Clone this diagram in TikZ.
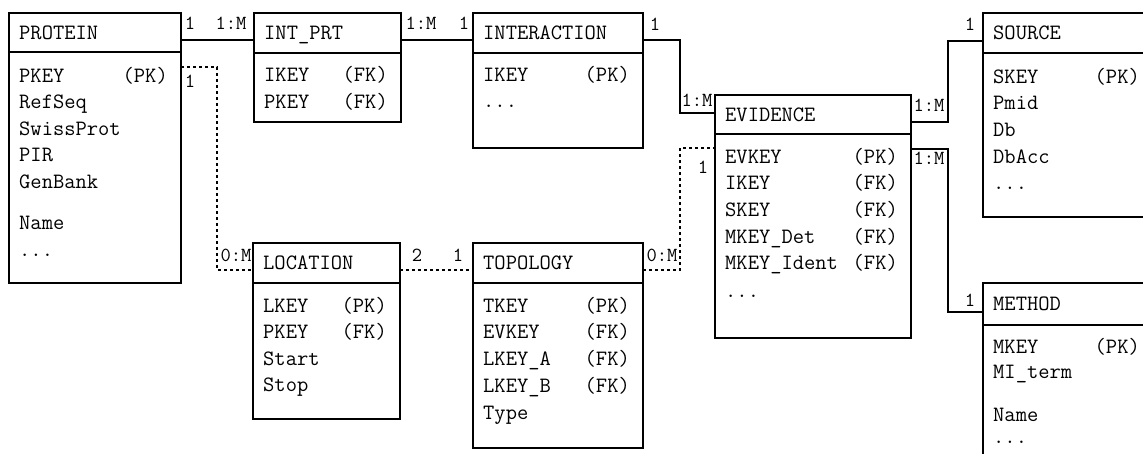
\documentclass[tikz,border=0pt]{standalone}
\usepackage{fontspec}
\usetikzlibrary{fit}

\tikzset{
  tbl/.style={draw, line width=2.5pt, inner sep=0pt, outer sep=0pt},
  hdr/.style={line width=2.2pt},
  ttl/.style={font=\fontsize{21.9}{24}\selectfont\ttfamily, inner sep=0pt, anchor=base west},
  fld/.style={font=\fontsize{21.9}{24}\selectfont\ttfamily, inner sep=0pt, anchor=base west},
  fkey/.style={font=\fontsize{21.9}{24}\selectfont\ttfamily, inner sep=0pt, anchor=base east},
  card/.style={font=\fontsize{20}{22}\selectfont\ttfamily, inner sep=0pt},
  rel/.style={line width=2pt},
  dotrel/.style={line width=2.6pt, dash pattern=on 3pt off 3pt},
}

% "more fields" marker
\newcommand\moref{...}

% table box: name, left, top, right, header line, bottom, title
\newcommand\ertable[7]{%
  \node[tbl, fit={(#2,#3) (#4,#6)}] (#1) {};
  \draw[hdr] (#1.west |- 0,#5) -- (#1.east |- 0,#5);
  \node[ttl] (#1-title) at (#2+10, {(#3+#5)/2+6.7}) {#7};
}
% field names: name, left, list of y/text
\newcommand\erfields[3]{%
  \foreach \fy/\ftxt [count=\fidx] in {#3}{
    \node[fld] (#1-f\fidx) at (#2+10, \fy+6.7) {\ftxt};
  }%
}
% key markers: name, right, list of y/text
\newcommand\erkeys[3]{%
  \foreach \fy/\ftxt [count=\fidx] in {#3}{
    \node[fkey] (#1-k\fidx) at (#2-13, \fy+6.7) {\ftxt};
  }%
}

\begin{document}
\begin{tikzpicture}[x=1pt, y=-1pt]
\useasboundingbox (0,0) rectangle (1143,454);
\clip (0,0) rectangle (1143,454);

% ---- tables ----
\ertable{protein}{9}{13}{181}{52}{283}{PROTEIN}
\erfields{protein}{9}{76/PKEY, 102/RefSeq, 129/SwissProt, 155/PIR, 182/GenBank, 223/Name, 250/\moref}
\erkeys{protein}{181}{76/(PK)}

\ertable{intprt}{254}{13}{401}{53}{122}{INT\_PRT}
\erfields{intprt}{254}{75/IKEY, 102/PKEY}
\erkeys{intprt}{401}{75/(FK), 102/(FK)}

\ertable{interaction}{473}{13}{643}{53}{148}{INTERACTION}
\erfields{interaction}{473}{75/IKEY, 101/\moref}
\erkeys{interaction}{643}{75/(PK)}

\ertable{evidence}{715}{95}{911}{134}{338}{EVIDENCE}
\erfields{evidence}{715}{157/EVKEY, 183/IKEY, 210/SKEY, 237/MKEY\_Det, 263/MKEY\_Ident, 291/\moref}
\erkeys{evidence}{911}{157/(PK), 183/(FK), 210/(FK), 237/(FK), 263/(FK)}

\ertable{source}{983}{13}{1153}{53}{217}{SOURCE}
\erfields{source}{983}{77/SKEY, 103/Pmid, 130/Db, 157/DbAcc, 183/\moref}
\erkeys{source}{1153}{77/(PK)}

\ertable{method}{983}{283}{1153}{325}{490}{METHOD}
\erfields{method}{983}{347/MKEY, 372/MI\_term, 415/Name, 437/\moref}
\erkeys{method}{1153}{347/(PK)}

\ertable{location}{253}{243}{400}{283}{419}{LOCATION}
\erfields{location}{253}{306/LKEY, 332/PKEY, 359/Start, 385/Stop}
\erkeys{location}{400}{306/(PK), 332/(FK)}

\ertable{topology}{473}{243}{643}{283}{448}{TOPOLOGY}
\erfields{topology}{473}{306/TKEY, 332/EVKEY, 359/LKEY\_A, 386/LKEY\_B, 413/Type}
\erkeys{topology}{643}{306/(PK), 332/(FK), 359/(FK), 386/(FK)}

% ---- relationships ----
\draw[rel] (protein.east |- 0,40) -- (intprt.west |- 0,40);
\node[card] (c-p1) at (190,23) {1};
\node[card] (c-p2) at (231,23) {1:M};

\draw[rel] (intprt.east |- 0,40) -- (interaction.west |- 0,40);
\node[card] (c-i1) at (421,23) {1:M};
\node[card] (c-i2) at (464,23) {1};

\draw[rel] (interaction.east |- 0,40) -- (680,40) -- (680,113) -- (evidence.west |- 0,113);
\node[card] (c-e1) at (655,24) {1};
\node[card] (c-e2) at (697,100) {1:M};

\draw[rel] (evidence.east |- 0,122) -- (948,122) -- (948,41) -- (source.west |- 0,41);
\node[card] (c-s1) at (929,105) {1:M};
\node[card] (c-s2) at (970,24) {1};

\draw[rel] (evidence.east |- 0,149) -- (948,149) -- (948,312) -- (method.west |- 0,312);
\node[card] (c-m1) at (929,158) {1:M};
\node[card] (c-m2) at (970,300) {1};

\draw[dotrel] (protein.east |- 0,67) -- (217,67) -- (217,270) -- (location.west |- 0,270);
\node[card] (c-l1) at (190,81) {1};
\node[card] (c-l2) at (236,255) {0:M};

\draw[dotrel] (location.east |- 0,270) -- (topology.west |- 0,270);
\node[card] (c-t1) at (417,255) {2};
\node[card] (c-t2) at (458,255) {1};

\draw[dotrel] (topology.east |- 0,270) -- (680,270) -- (680,148) -- (evidence.west |- 0,148);
\node[card] (c-v1) at (662,255) {0:M};
\node[card] (c-v2) at (703,167) {1};
\end{tikzpicture}
\end{document}
